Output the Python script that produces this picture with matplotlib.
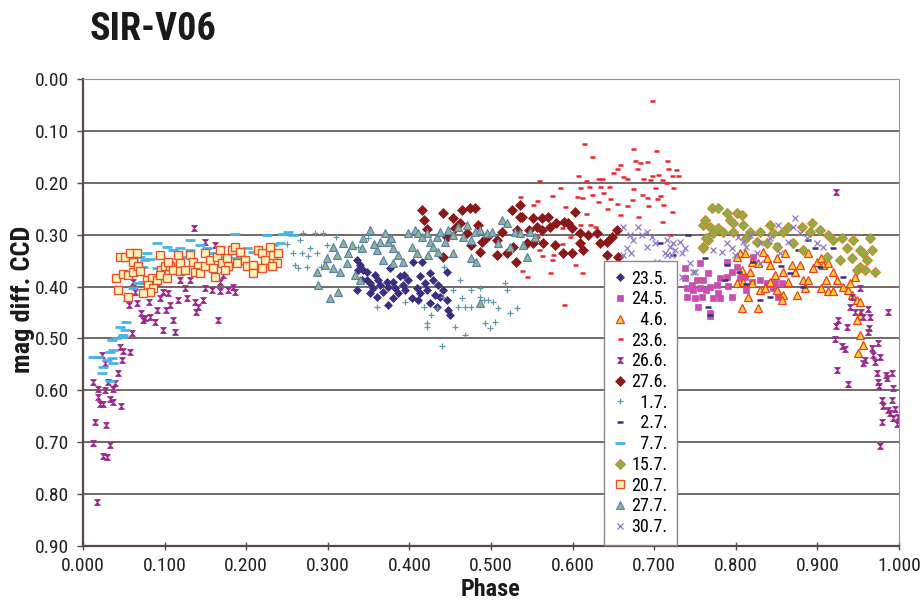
import numpy as np
import matplotlib
matplotlib.use("Agg")
import matplotlib.pyplot as plt
import matplotlib.ticker as mticker
from matplotlib.path import Path

# ── data: (phase, mag diff) pairs ─────────────────────────────────────────────
d_235 = [(0.336, 0.349), (0.339, 0.358), (0.343, 0.368), (0.342, 0.387), (0.348, 0.387),
         (0.336, 0.407), (0.352, 0.393), (0.356, 0.403), (0.362, 0.387), (0.364, 0.397),
         (0.368, 0.410), (0.372, 0.391), (0.374, 0.401), (0.380, 0.391), (0.382, 0.403),
         (0.386, 0.412), (0.392, 0.397), (0.395, 0.407), (0.398, 0.387), (0.403, 0.422),
         (0.409, 0.403), (0.413, 0.412), (0.413, 0.380), (0.419, 0.393), (0.421, 0.407),
         (0.425, 0.374), (0.429, 0.387), (0.431, 0.416), (0.435, 0.397), (0.438, 0.420),
         (0.441, 0.407), (0.446, 0.372), (0.446, 0.426), (0.450, 0.455), (0.447, 0.445),
         (0.374, 0.435), (0.348, 0.372), (0.376, 0.364), (0.404, 0.352), (0.415, 0.352),
         (0.393, 0.378), (0.388, 0.380), (0.358, 0.378), (0.352, 0.412), (0.360, 0.420),
         (0.380, 0.422), (0.411, 0.426), (0.425, 0.432), (0.434, 0.439), (0.337, 0.368)]

d_245 = [(0.738, 0.383), (0.740, 0.403), (0.740, 0.420), (0.748, 0.407), (0.750, 0.422),
         (0.756, 0.403), (0.758, 0.420), (0.754, 0.439), (0.760, 0.387), (0.766, 0.374),
         (0.768, 0.400), (0.768, 0.451), (0.777, 0.397), (0.778, 0.413), (0.781, 0.383),
         (0.781, 0.422), (0.789, 0.381), (0.790, 0.399), (0.795, 0.420), (0.789, 0.352),
         (0.795, 0.372), (0.801, 0.362), (0.805, 0.383), (0.756, 0.355), (0.738, 0.364),
         (0.811, 0.381), (0.820, 0.391), (0.830, 0.387), (0.838, 0.393), (0.848, 0.393),
         (0.857, 0.393), (0.846, 0.403), (0.821, 0.343), (0.764, 0.407), (0.772, 0.422),
         (0.746, 0.397), (0.752, 0.387), (0.852, 0.420), (0.813, 0.407), (0.768, 0.457)]

d_46 = [(0.805, 0.336), (0.811, 0.336), (0.833, 0.333), (0.838, 0.345), (0.850, 0.345),
        (0.820, 0.352), (0.827, 0.355), (0.808, 0.368), (0.817, 0.372), (0.801, 0.393),
        (0.809, 0.391), (0.820, 0.393), (0.830, 0.407), (0.836, 0.403), (0.842, 0.391),
        (0.848, 0.378), (0.858, 0.372), (0.864, 0.391), (0.873, 0.372), (0.875, 0.416),
        (0.858, 0.416), (0.857, 0.426), (0.815, 0.420), (0.808, 0.441), (0.827, 0.441),
        (0.879, 0.358), (0.882, 0.387), (0.888, 0.387), (0.895, 0.364), (0.899, 0.352),
        (0.905, 0.345), (0.907, 0.358), (0.913, 0.355), (0.919, 0.372), (0.911, 0.387),
        (0.905, 0.403), (0.913, 0.409), (0.919, 0.409), (0.924, 0.387), (0.931, 0.400),
        (0.938, 0.407), (0.942, 0.416), (0.948, 0.426), (0.952, 0.430), (0.946, 0.381),
        (0.940, 0.393), (0.952, 0.455), (0.948, 0.464), (0.952, 0.493), (0.956, 0.512),
        (0.950, 0.528), (0.801, 0.343), (0.842, 0.358), (0.869, 0.358), (0.850, 0.407),
        (0.885, 0.403), (0.888, 0.336), (0.860, 0.336)]

d_236 = [(0.697, 0.042), (0.614, 0.125), (0.674, 0.135), (0.702, 0.139), (0.624, 0.150),
         (0.677, 0.158), (0.683, 0.162), (0.691, 0.160), (0.716, 0.158), (0.658, 0.166),
         (0.654, 0.174), (0.679, 0.174), (0.717, 0.174), (0.727, 0.175), (0.607, 0.187),
         (0.650, 0.181), (0.662, 0.189), (0.697, 0.187), (0.705, 0.185), (0.722, 0.187),
         (0.729, 0.187), (0.559, 0.196), (0.631, 0.193), (0.636, 0.193), (0.667, 0.193),
         (0.686, 0.193), (0.695, 0.195), (0.710, 0.195), (0.714, 0.200), (0.617, 0.196),
         (0.585, 0.210), (0.609, 0.210), (0.620, 0.208), (0.634, 0.208), (0.645, 0.208),
         (0.674, 0.212), (0.701, 0.210), (0.723, 0.210), (0.624, 0.223), (0.637, 0.220),
         (0.685, 0.223), (0.707, 0.225), (0.605, 0.227), (0.575, 0.225), (0.535, 0.227),
         (0.556, 0.235), (0.611, 0.229), (0.646, 0.231), (0.673, 0.233), (0.691, 0.229),
         (0.703, 0.231), (0.631, 0.237), (0.654, 0.241), (0.667, 0.245), (0.692, 0.245),
         (0.711, 0.243), (0.591, 0.246), (0.642, 0.250), (0.551, 0.243), (0.617, 0.260),
         (0.658, 0.262), (0.680, 0.266), (0.722, 0.256), (0.709, 0.275), (0.621, 0.281),
         (0.627, 0.285), (0.609, 0.281), (0.587, 0.287), (0.576, 0.283), (0.597, 0.304),
         (0.620, 0.301), (0.556, 0.304), (0.562, 0.316), (0.587, 0.318), (0.576, 0.339),
         (0.559, 0.329), (0.563, 0.341), (0.603, 0.358), (0.575, 0.349), (0.572, 0.374),
         (0.611, 0.374), (0.538, 0.370), (0.544, 0.381), (0.719, 0.301), (0.590, 0.435)]

d_266 = [(0.136, 0.287), (0.150, 0.314), (0.162, 0.320), (0.061, 0.391), (0.053, 0.422),
         (0.064, 0.410), (0.056, 0.435), (0.066, 0.432), (0.071, 0.451), (0.076, 0.461),
         (0.082, 0.458), (0.088, 0.468), (0.074, 0.464), (0.081, 0.430), (0.091, 0.445),
         (0.094, 0.422), (0.104, 0.412), (0.107, 0.435), (0.102, 0.445), (0.098, 0.484),
         (0.113, 0.487), (0.110, 0.464), (0.116, 0.426), (0.127, 0.422), (0.125, 0.403),
         (0.137, 0.430), (0.141, 0.439), (0.138, 0.449), (0.147, 0.426), (0.119, 0.387),
         (0.131, 0.387), (0.150, 0.403), (0.158, 0.407), (0.168, 0.408), (0.178, 0.407),
         (0.186, 0.410), (0.168, 0.391), (0.172, 0.378), (0.184, 0.401), (0.165, 0.464),
         (0.091, 0.391), (0.098, 0.410), (0.162, 0.381),
         (0.060, 0.489), (0.045, 0.516), (0.049, 0.524), (0.058, 0.526), (0.023, 0.532),
         (0.027, 0.548), (0.048, 0.541), (0.043, 0.567), (0.012, 0.584), (0.031, 0.584),
         (0.039, 0.585), (0.018, 0.598), (0.027, 0.599), (0.037, 0.598), (0.018, 0.612),
         (0.033, 0.617), (0.037, 0.622), (0.021, 0.626), (0.025, 0.626), (0.047, 0.630),
         (0.015, 0.661), (0.028, 0.667), (0.012, 0.701), (0.033, 0.705), (0.025, 0.726),
         (0.029, 0.728), (0.017, 0.815),
         (0.923, 0.218), (0.987, 0.449), (0.925, 0.464), (0.923, 0.476), (0.922, 0.501),
         (0.930, 0.514), (0.934, 0.520), (0.940, 0.439), (0.946, 0.449), (0.954, 0.449),
         (0.962, 0.443), (0.956, 0.458), (0.964, 0.458), (0.963, 0.480), (0.962, 0.487),
         (0.974, 0.509), (0.967, 0.518), (0.968, 0.532), (0.977, 0.536), (0.958, 0.541),
         (0.956, 0.547), (0.971, 0.545), (0.973, 0.566), (0.984, 0.570), (0.991, 0.566),
         (0.985, 0.576), (0.974, 0.584), (0.976, 0.591), (0.924, 0.561), (0.938, 0.588),
         (0.993, 0.595), (0.979, 0.618), (0.991, 0.618), (0.980, 0.630), (0.987, 0.638),
         (0.989, 0.644), (0.995, 0.636), (0.999, 0.651), (0.997, 0.665), (0.993, 0.653),
         (0.979, 0.661), (0.977, 0.707), (0.952, 0.403), (0.942, 0.420), (0.936, 0.478)]

d_276 = [(0.415, 0.252), (0.418, 0.272), (0.441, 0.259), (0.454, 0.268), (0.464, 0.252),
         (0.474, 0.249), (0.481, 0.249), (0.462, 0.278), (0.484, 0.281), (0.421, 0.290),
         (0.446, 0.304), (0.456, 0.287), (0.470, 0.297), (0.476, 0.320), (0.489, 0.314),
         (0.495, 0.304), (0.507, 0.310), (0.513, 0.295), (0.526, 0.252), (0.536, 0.243),
         (0.536, 0.266), (0.546, 0.291), (0.532, 0.291), (0.544, 0.316), (0.551, 0.316),
         (0.527, 0.323), (0.531, 0.352), (0.507, 0.339), (0.487, 0.333), (0.441, 0.343),
         (0.538, 0.266), (0.551, 0.268), (0.562, 0.268), (0.570, 0.266), (0.580, 0.277),
         (0.572, 0.285), (0.590, 0.275), (0.594, 0.277), (0.603, 0.256), (0.599, 0.287),
         (0.609, 0.297), (0.619, 0.301), (0.630, 0.297), (0.634, 0.316), (0.642, 0.314),
         (0.648, 0.304), (0.654, 0.291), (0.656, 0.343), (0.642, 0.339), (0.609, 0.316),
         (0.613, 0.329), (0.564, 0.316), (0.578, 0.320), (0.588, 0.335), (0.599, 0.335),
         (0.520, 0.335), (0.556, 0.285), (0.562, 0.291)]

d_17 = [(0.270, 0.297), (0.284, 0.297), (0.294, 0.297), (0.266, 0.310), (0.257, 0.336),
        (0.268, 0.336), (0.260, 0.358), (0.264, 0.365), (0.276, 0.342), (0.278, 0.326),
        (0.287, 0.336), (0.274, 0.362), (0.299, 0.320), (0.292, 0.362), (0.337, 0.323),
        (0.349, 0.307), (0.360, 0.439), (0.395, 0.429), (0.418, 0.439), (0.421, 0.470),
        (0.421, 0.478), (0.434, 0.441), (0.427, 0.455), (0.440, 0.514), (0.443, 0.362),
        (0.441, 0.420), (0.454, 0.407), (0.464, 0.422), (0.460, 0.439), (0.468, 0.439),
        (0.476, 0.439), (0.487, 0.420), (0.491, 0.426), (0.496, 0.426), (0.503, 0.430),
        (0.509, 0.441), (0.517, 0.393), (0.519, 0.407), (0.532, 0.441), (0.456, 0.478),
        (0.468, 0.493), (0.493, 0.470), (0.499, 0.480), (0.505, 0.468), (0.487, 0.403),
        (0.462, 0.387), (0.523, 0.451), (0.476, 0.407), (0.310, 0.305), (0.250, 0.318)]

d_27 = [(0.762, 0.345), (0.789, 0.358), (0.804, 0.372), (0.821, 0.352), (0.830, 0.426),
        (0.842, 0.420), (0.876, 0.329), (0.888, 0.310), (0.897, 0.326), (0.919, 0.326),
        (0.768, 0.455), (0.766, 0.440), (0.866, 0.374), (0.882, 0.400), (0.903, 0.362),
        (0.931, 0.381), (0.787, 0.387), (0.707, 0.316), (0.723, 0.339), (0.742, 0.300),
        (0.812, 0.395), (0.856, 0.360), (0.910, 0.300), (0.850, 0.318)]

d_77 = [(0.251, 0.294), (0.245, 0.299), (0.257, 0.301), (0.225, 0.301), (0.186, 0.299),
        (0.131, 0.310), (0.152, 0.326), (0.168, 0.324), (0.201, 0.326), (0.208, 0.333),
        (0.233, 0.320), (0.241, 0.316), (0.091, 0.316), (0.103, 0.324), (0.110, 0.329),
        (0.119, 0.326), (0.131, 0.329), (0.078, 0.336), (0.070, 0.343), (0.061, 0.349),
        (0.076, 0.349), (0.082, 0.347), (0.094, 0.343), (0.123, 0.343), (0.176, 0.343),
        (0.189, 0.345), (0.074, 0.362), (0.091, 0.364), (0.067, 0.393), (0.074, 0.391),
        (0.061, 0.403), (0.053, 0.468), (0.045, 0.478), (0.051, 0.484), (0.041, 0.499),
        (0.048, 0.497), (0.036, 0.503), (0.033, 0.526), (0.037, 0.522), (0.018, 0.535),
        (0.029, 0.541), (0.037, 0.547), (0.025, 0.555), (0.023, 0.567), (0.158, 0.336),
        (0.143, 0.320), (0.049, 0.493), (0.036, 0.538), (0.033, 0.582), (0.012, 0.536)]

d_157 = [(0.771, 0.249), (0.778, 0.249), (0.789, 0.259), (0.801, 0.259), (0.808, 0.262),
         (0.760, 0.281), (0.768, 0.285), (0.778, 0.287), (0.793, 0.272), (0.809, 0.281),
         (0.772, 0.297), (0.784, 0.295), (0.797, 0.295), (0.766, 0.310), (0.760, 0.323),
         (0.817, 0.295), (0.830, 0.295), (0.842, 0.281), (0.846, 0.297), (0.858, 0.295),
         (0.864, 0.285), (0.881, 0.285), (0.893, 0.278), (0.891, 0.295), (0.903, 0.291),
         (0.913, 0.301), (0.919, 0.310), (0.930, 0.306), (0.944, 0.310), (0.964, 0.306),
         (0.952, 0.329), (0.936, 0.326), (0.956, 0.336), (0.967, 0.329), (0.942, 0.345),
         (0.952, 0.362), (0.961, 0.349), (0.971, 0.372), (0.958, 0.368), (0.949, 0.368),
         (0.928, 0.349), (0.912, 0.343), (0.882, 0.329), (0.870, 0.316), (0.838, 0.316),
         (0.850, 0.323), (0.826, 0.314), (0.813, 0.306), (0.762, 0.272), (0.764, 0.306),
         (0.797, 0.277), (0.760, 0.326)]

d_207 = [(0.045, 0.343), (0.051, 0.343), (0.058, 0.336), (0.066, 0.336), (0.061, 0.352),
         (0.041, 0.384), (0.043, 0.407), (0.049, 0.376), (0.055, 0.378), (0.061, 0.372),
         (0.067, 0.360), (0.055, 0.420), (0.070, 0.370), (0.078, 0.387), (0.085, 0.384),
         (0.080, 0.397), (0.091, 0.387), (0.094, 0.339), (0.096, 0.368), (0.094, 0.378),
         (0.103, 0.384), (0.100, 0.360), (0.107, 0.360), (0.110, 0.368), (0.116, 0.339),
         (0.119, 0.355), (0.119, 0.370), (0.125, 0.368), (0.131, 0.339), (0.135, 0.352),
         (0.141, 0.360), (0.137, 0.372), (0.143, 0.374), (0.150, 0.336), (0.150, 0.360),
         (0.156, 0.349), (0.159, 0.364), (0.164, 0.343), (0.168, 0.329), (0.170, 0.355),
         (0.176, 0.345), (0.178, 0.360), (0.182, 0.329), (0.186, 0.324), (0.192, 0.333),
         (0.189, 0.355), (0.199, 0.349), (0.201, 0.360), (0.208, 0.358), (0.214, 0.329),
         (0.219, 0.336), (0.223, 0.349), (0.219, 0.364), (0.229, 0.324), (0.233, 0.339),
         (0.239, 0.336), (0.238, 0.355), (0.232, 0.360), (0.208, 0.374), (0.086, 0.403),
         (0.082, 0.410), (0.074, 0.412), (0.104, 0.352), (0.162, 0.381), (0.174, 0.368)]

d_277 = [(0.288, 0.397), (0.303, 0.422), (0.313, 0.410), (0.287, 0.372), (0.296, 0.358),
         (0.306, 0.323), (0.319, 0.316), (0.330, 0.320), (0.311, 0.339), (0.325, 0.336),
         (0.299, 0.345), (0.306, 0.365), (0.315, 0.372), (0.323, 0.355), (0.343, 0.307),
         (0.342, 0.326), (0.339, 0.387), (0.333, 0.378), (0.352, 0.291), (0.364, 0.314),
         (0.360, 0.329), (0.370, 0.297), (0.374, 0.314), (0.378, 0.307), (0.368, 0.349),
         (0.380, 0.326), (0.386, 0.339), (0.380, 0.355), (0.392, 0.352), (0.398, 0.297),
         (0.407, 0.291), (0.410, 0.297), (0.403, 0.323), (0.409, 0.336), (0.415, 0.304),
         (0.421, 0.297), (0.425, 0.314), (0.429, 0.323), (0.434, 0.304), (0.438, 0.295),
         (0.444, 0.314), (0.447, 0.291), (0.454, 0.301), (0.460, 0.285), (0.466, 0.304),
         (0.470, 0.281), (0.476, 0.310), (0.480, 0.295), (0.487, 0.291), (0.495, 0.297),
         (0.501, 0.295), (0.509, 0.316), (0.513, 0.272), (0.519, 0.277), (0.523, 0.323),
         (0.529, 0.295), (0.536, 0.297), (0.539, 0.320), (0.544, 0.343), (0.548, 0.295),
         (0.554, 0.304), (0.476, 0.345), (0.482, 0.352), (0.454, 0.336), (0.435, 0.333),
         (0.423, 0.339), (0.487, 0.432), (0.357, 0.318)]

d_307 = [(0.662, 0.285), (0.670, 0.301), (0.680, 0.285), (0.691, 0.295), (0.685, 0.301),
         (0.697, 0.304), (0.701, 0.316), (0.674, 0.310), (0.667, 0.326), (0.672, 0.335),
         (0.662, 0.339), (0.691, 0.324), (0.703, 0.352), (0.716, 0.339), (0.719, 0.324),
         (0.725, 0.329), (0.732, 0.314), (0.734, 0.381), (0.748, 0.372), (0.703, 0.372),
         (0.716, 0.310), (0.723, 0.316), (0.713, 0.336), (0.722, 0.339), (0.734, 0.336),
         (0.738, 0.326), (0.744, 0.355), (0.750, 0.372), (0.772, 0.329), (0.783, 0.333),
         (0.789, 0.316), (0.795, 0.326), (0.799, 0.339), (0.813, 0.323), (0.826, 0.336),
         (0.830, 0.316), (0.842, 0.306), (0.852, 0.281), (0.873, 0.268), (0.870, 0.285),
         (0.879, 0.297), (0.887, 0.306), (0.864, 0.314), (0.900, 0.316), (0.907, 0.324),
         (0.803, 0.304), (0.809, 0.314), (0.830, 0.355), (0.854, 0.336), (0.817, 0.301)]

labels = ["23.5.", "24.5.", "  4.6.", "23.6.", "26.6.", "27.6.", "  1.7.",
          "  2.7.", "  7.7.", "15.7.", "20.7.", "27.7.", "30.7."]

x_ticks = [0.0, 0.1, 0.2, 0.3, 0.4, 0.5, 0.6, 0.7, 0.8, 0.9, 1.0]
y_ticks = [0.0, 0.1, 0.2, 0.3, 0.4, 0.5, 0.6, 0.7, 0.8, 0.9]

# hourglass marker (Excel "x with bars" look)
HOURGLASS = Path([(-1, 1), (1, 1), (-1, -1), (1, -1), (-1, 1)],
                 [Path.MOVETO, Path.LINETO, Path.LINETO, Path.LINETO, Path.CLOSEPOLY])

# ── marker styles per series ────────────────────────────────────────────────
styles = [
    dict(marker="D", ms=4.4, mfc="#3b2f82", mec="#3b2f82", mew=0.5),
    dict(marker="s", ms=4.8, mfc="#cc4db2", mec="#cc4db2", mew=0.5),
    dict(marker="^", ms=5.6, mfc="#ffd23a", mec="#e8401c", mew=0.9),
    dict(marker="_", ms=3.6, mfc="#e8262c", mec="#e8262c", mew=1.8),
    dict(marker=HOURGLASS, ms=4.2, mfc="#9a2a8c", mec="#9a2a8c", mew=0.6),
    dict(marker="D", ms=4.8, mfc="#8a1818", mec="#8a1818", mew=0.5),
    dict(marker="+", ms=5.0, mfc="#5f98a6", mec="#5f98a6", mew=0.9),
    dict(marker="_", ms=4.4, mfc="#2e318f", mec="#2e318f", mew=1.8),
    dict(marker="_", ms=7.0, mfc="#45b4e8", mec="#45b4e8", mew=2.0),
    dict(marker="D", ms=4.8, mfc="#8cae48", mec="#d0862a", mew=0.8),
    dict(marker="s", ms=5.2, mfc="#fff2b8", mec="#e8502a", mew=1.0),
    dict(marker="^", ms=5.6, mfc="#8db58e", mec="#5a7db2", mew=0.8),
    dict(marker="x", ms=4.4, mfc="#8c78c8", mec="#8c78c8", mew=0.9),
]

series = [d_235, d_245, d_46, d_236, d_266, d_276, d_17, d_27, d_77,
          d_157, d_207, d_277, d_307]

FONT = ["Roboto Condensed", "Liberation Sans Narrow", "Liberation Sans", "DejaVu Sans"]
plt.rcParams["font.family"] = FONT
AX_COL = "#5a4848"

fig = plt.figure(figsize=(9.24, 6.02), dpi=100)
ax = fig.add_axes([83 / 924, 1 - 546 / 602, 816 / 924, 467 / 602])

for pts, lab, st in zip(series, labels, styles):
    arr = np.array(pts)
    ax.plot(arr[:, 0], arr[:, 1], linestyle="none", label=lab, **st)

ax.set_xlim(0, 1)
ax.set_ylim(0.9, 0.0)
ax.set_xticks(x_ticks)
ax.set_yticks(y_ticks)
ax.xaxis.set_major_formatter(mticker.FormatStrFormatter("%.3f"))
ax.yaxis.set_major_formatter(mticker.FormatStrFormatter("%.2f"))
ax.tick_params(axis="x", direction="inout", length=6, width=1.0, color=AX_COL,
               labelsize=14, pad=5, labelcolor="#222222")
ax.tick_params(axis="y", direction="out", length=4, width=1.0, color=AX_COL,
               labelsize=14, pad=6, labelcolor="#222222")

ax.grid(axis="y", color="#4a3f3f", linewidth=1.1, zorder=0)
ax.set_axisbelow(True)
for s in ["left", "bottom"]:
    ax.spines[s].set_color(AX_COL)
    ax.spines[s].set_linewidth(1.6)
for s in ["top", "right"]:
    ax.spines[s].set_color("#9a9090")
    ax.spines[s].set_linewidth(0.8)

ax.set_xlabel("Phase", fontsize=17.5, fontweight="bold", color="#1a1a1a")
ax.set_ylabel("mag diff. CCD", fontsize=19, fontweight="bold", color="#1a1a1a")
ax.xaxis.set_label_coords(0.5, -0.068)
ax.yaxis.set_label_coords(-0.059, 0.529)

leg = ax.legend(loc="lower left", bbox_to_anchor=(0.638, 0.002), fontsize=13,
                frameon=True, fancybox=False, framealpha=1.0, edgecolor="#888888",
                labelspacing=0.15, handlelength=0.8, handletextpad=0.25,
                borderpad=0.5, borderaxespad=0.0)
leg.get_frame().set_linewidth(1.0)
leg.set_zorder(10)

fig.text(90 / 924, 1 - 29 / 602, "SIR-V06", fontsize=27.5, fontweight="bold",
         va="center", ha="left", color="#1a1a1a")

fig.savefig("out.png", dpi=100, facecolor="white")
